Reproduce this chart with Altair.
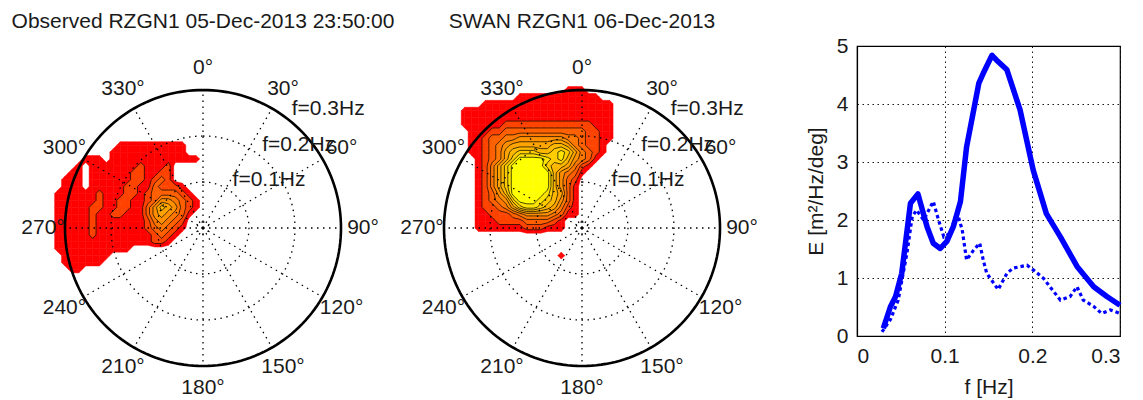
import math
import altair as alt
import pandas as pd

# ---------------------------------------------------------------- text
TITLE_OBS = "Observed RZGN1 05-Dec-2013 23:50:00"
TITLE_SWAN = "SWAN RZGN1 06-Dec-2013"

# ---------------------------------------------------------------- 1-D spectra (right panel)
F_SWAN = [0.030, 0.038, 0.044, 0.051, 0.061, 0.0695, 0.080, 0.087, 0.095, 0.1025,
          0.110, 0.118, 0.125, 0.139, 0.144, 0.154, 0.159, 0.171, 0.186, 0.201,
          0.216, 0.232, 0.251, 0.270, 0.285, 0.300]
E_SWAN = [0.13, 0.50, 0.68, 1.08, 2.29, 2.45, 1.88, 1.60, 1.51, 1.63,
          1.89, 2.32, 3.26, 4.36, 4.53, 4.84, 4.76, 4.59, 3.90, 2.86,
          2.11, 1.71, 1.20, 0.85, 0.68, 0.53]

F_OBS = [0.0285, 0.038, 0.047, 0.057, 0.063, 0.068, 0.076, 0.087, 0.093, 0.099,
         0.106, 0.114, 0.120, 0.125, 0.133, 0.140, 0.144, 0.148, 0.156, 0.161,
         0.171, 0.178, 0.194, 0.201, 0.213, 0.220, 0.232, 0.243, 0.251, 0.258,
         0.270, 0.279, 0.289, 0.300]
E_OBS = [0.07, 0.28, 0.62, 1.43, 2.06, 2.17, 2.00, 2.32, 2.00, 1.71,
         1.77, 2.14, 1.83, 1.31, 1.48, 1.60, 1.31, 1.08, 0.91, 0.80,
         1.08, 1.17, 1.22, 1.14, 0.99, 0.85, 0.62, 0.68, 0.85, 0.62,
         0.51, 0.39, 0.45, 0.39]

F_TICKS = [0, 0.1, 0.2, 0.3]
E_TICKS = [0, 1, 2, 3, 4, 5]

# ---------------------------------------------------------------- polar grid
DIR_TICKS = [0, 30, 60, 90, 120, 150, 180, 210, 240, 270, 300, 330]
RING_F = [0.1, 0.2, 0.3]
RING_LABELS = ["f=0.1Hz", "f=0.2Hz", "f=0.3Hz"]
F_MAX = 0.3
F_HUB = 0.013                   # small ring marking the origin

# ---------------------------------------------------------------- 2-D spectra
# Contour level of E(fx, fy) sampled on a 0.015 Hz grid of frequency vectors
# (fx = f*sin(dir), fy = f*cos(dir)); one string per row, top row first,
# one hex digit per node (0 = below the lowest level, A = level 10).
CELL_DF = 0.015

OBS_COL0, OBS_ROW0 = -22, 12
OBS_LEVELS = [
    "00000000001111111111000",
    "00000000011111111111000",
    "00000111011111111111110",
    "00001011111112111200000",
    "00011011111122112200000",
    "00111011111122123200000",
    "00111011111221132221000",
    "01111112111221233332100",
    "01111112112211235543210",
    "01111122112211357653210",
    "01111121122111356543100",
    "01111121111111245432000",
    "01111121111111234321000",
    "01111121111111123210000",
    "01111111111111122100000",
    "01111111111100000000000",
    "00111111100000000000000",
    "00111111000000000000000",
    "00011000000000000000000",
]

SWAN_COL0, SWAN_ROW0 = -17, 20
SWAN_LEVELS = [
    "0000000000000001110000",
    "0000000011111111111100",
    "0001111111111111111111",
    "1111111111111111111111",
    "1111111111111111111111",
    "1111112222222222222111",
    "0111223333333333332211",
    "0112334455555554432211",
    "0112345666666776432210",
    "0112346788877898643210",
    "00123468AAAA9897543100",
    "0012468AAAAA8776421000",
    "0012468AAAAAA754310000",
    "0012468AAAAAA753200000",
    "0012468AAAAAA753100000",
    "0012357AAAAA9763100000",
    "00123458AAA98753100000",
    "0012234689987642100000",
    "0011222345555431100000",
    "0011122223333210000000",
    "0011111112221110000000",
    "0000000000000000000000",
    "0000000000000000000000",
    "0000000000000000000000",
    "0000000000000010000000",
]

LEVEL_COLORS = ["#ff0000", "#ff4400", "#ff6000", "#ff7800", "#ff9000",
                "#ffa400", "#ffb800", "#ffcc00", "#ffe400", "#ffff00"]
LEVELS = list(range(1, 11))

# ---------------------------------------------------------------- layout (pixels)
CANVAS_W, CANVAS_H = 1143, 400
PLOT_LEFT, PLOT_TOP, PLOT_W, PLOT_H = 857, 46, 263, 290
R_PX = 138                      # radius of the f = 0.3 Hz circle
CENTERS = [(203, 228), (582, 228)]
FONT = "Liberation Sans"
FS = 21
INK = "#1a1a1a"


def parse(rows):
    return [[int(ch, 16) for ch in line] for line in rows]


def vertical_slices(poly):
    """Upper/lower bounds of a convex polygon at each of its vertex abscissae."""
    xs = sorted({round(p[0], 9) for p in poly})
    out = []
    n = len(poly)
    for x in xs:
        ys = []
        for a in range(n):
            (px, py), (qx, qy) = poly[a], poly[(a + 1) % n]
            lo, hi = min(px, qx), max(px, qx)
            if x < lo - 1e-9 or x > hi + 1e-9:
                continue
            if abs(qx - px) < 1e-12:
                ys += [py, qy]
            else:
                ys.append(py + (x - px) / (qx - px) * (qy - py))
        out.append((x, max(ys), min(ys)))
    return out


def contour_tables(rows, col0, row0):
    """Filled contour bands (convex pieces) and iso-line segments, marching squares."""
    g = parse(rows)
    nr, nc = len(g), len(g[0])
    pad = [[0] * (nc + 2)] + [[0] + row + [0] for row in g] + [[0] * (nc + 2)]
    c0, r0 = col0 - 1, row0 + 1

    def node(r, c):
        return ((c0 + c) * CELL_DF, (r0 - r) * CELL_DF)

    pieces, segs = [], []
    pid = 0
    for r in range(nr + 1):
        for c in range(nc + 1):
            idx = [(r, c), (r, c + 1), (r + 1, c + 1), (r + 1, c)]
            vals = [pad[a][b] for a, b in idx]
            pts = [node(a, b) for a, b in idx]
            lo, hi = min(vals), max(vals)
            for k in LEVELS:
                t = k - 0.5
                if hi < t:
                    break
                if lo >= t + 1:
                    continue
                poly, cross = [], []
                for a in range(4):
                    b = (a + 1) % 4
                    va, vb = vals[a], vals[b]
                    if va >= t:
                        poly.append(pts[a])
                    if (va >= t) != (vb >= t):
                        s = (t - va) / (vb - va)
                        p = (pts[a][0] + s * (pts[b][0] - pts[a][0]),
                             pts[a][1] + s * (pts[b][1] - pts[a][1]))
                        poly.append(p)
                        cross.append(("exit" if va >= t else "entry", p))
                if len(poly) >= 3:
                    for x, yt, yb in vertical_slices(poly):
                        pieces.append(dict(pid=pid, level=k, x=x, yt=yt, yb=yb))
                    pid += 1
                if k >= 2:
                    for n, (kind, p) in enumerate(cross):
                        if kind == "exit":
                            q = cross[(n + 1) % len(cross)][1]
                            segs.append(dict(level=k, x0=p[0], y0=p[1], x1=q[0], y1=q[1]))
    return pd.DataFrame(pieces), pd.DataFrame(segs)


level_scale = alt.Scale(domain=LEVELS, range=LEVEL_COLORS)


def polar_panel(center, title, rows, col0, row0):
    cx, cy = center
    xs = alt.Scale(domain=[-F_MAX, F_MAX], range=[cx - R_PX - PLOT_LEFT, cx + R_PX - PLOT_LEFT],
                   nice=False, zero=False)
    ys = alt.Scale(domain=[-F_MAX, F_MAX], range=[cy + R_PX - PLOT_TOP, cy - R_PX - PLOT_TOP],
                   nice=False, zero=False)

    def X(f):
        return alt.X(f, type="quantitative", scale=xs, axis=None)

    def Y(f):
        return alt.Y(f, type="quantitative", scale=ys, axis=None)

    pieces, segs = contour_tables(rows, col0, row0)

    layers = []
    for k in LEVELS:
        part = pieces[pieces.level == k]
        if part.empty:
            continue
        layers.append(
            alt.Chart(part).mark_area(strokeWidth=0.5, interpolate="linear").encode(
                x=X("x"), y=alt.Y("yt", type="quantitative", scale=ys, axis=None, stack=None),
                y2="yb", detail="pid:N",
                color=alt.Color("level:O", scale=level_scale, legend=None),
                stroke=alt.Stroke("level:O", scale=level_scale, legend=None),
            )
        )

    isolines = alt.Chart(segs).mark_rule(color="black", strokeWidth=0.8, opacity=0.9).encode(
        x=X("x0"), x2="x1", y=Y("y0"), y2="y1")

    spokes = alt.Chart(pd.DataFrame({"deg": DIR_TICKS})).transform_calculate(
        ox="0", oy="0",
        sx=f"{F_MAX}*sin(datum.deg*PI/180)", sy=f"{F_MAX}*cos(datum.deg*PI/180)",
    ).mark_rule(color="black", strokeWidth=1.3, strokeDash=[1.5, 4.5]).encode(
        x=X("ox"), x2="sx", y=Y("oy"), y2="sy")

    # circles of constant frequency, traced around the full compass
    sweep = list(range(0, 361, 2))
    circ = pd.DataFrame([{"f": f, "a": a} for f in [F_HUB] + RING_F for a in sweep])
    circ_xy = alt.Chart(circ).transform_calculate(
        px="datum.f*sin(datum.a*PI/180)", py="datum.f*cos(datum.a*PI/180)")
    rings = circ_xy.transform_filter(f"datum.f < {F_MAX}").mark_line(
        color="black", strokeWidth=1.3, strokeDash=[1.5, 4.5]).encode(
        x=X("px:Q"), y=Y("py:Q"), detail="f:N", order="a:Q")
    rim = circ_xy.transform_filter(f"datum.f >= {F_MAX}").mark_line(
        color="black", strokeWidth=2.6).encode(
        x=X("px:Q"), y=Y("py:Q"), detail="f:N", order="a:Q")

    label_r = 160 / R_PX * F_MAX
    dir_labels = alt.Chart(pd.DataFrame({"deg": DIR_TICKS,
                                         "txt": [f"{d}°" for d in DIR_TICKS]})).transform_calculate(
        lx=f"{label_r}*sin(datum.deg*PI/180)", ly=f"{label_r}*cos(datum.deg*PI/180)",
    ).mark_text(font=FONT, fontSize=FS, color=INK, align="center", baseline="middle").encode(
        x=X("lx"), y=Y("ly"), text="txt:N")

    f_labels = alt.Chart(pd.DataFrame({"f": RING_F, "txt": RING_LABELS})).transform_calculate(
        lx="datum.f*sin(40*PI/180)", ly="datum.f*cos(40*PI/180)",
    ).mark_text(font=FONT, fontSize=FS, color=INK, align="left", baseline="alphabetic", dy=-7).encode(
        x=X("lx"), y=Y("ly"), text="txt:N")

    title_fy = (cy - 28) / R_PX * F_MAX
    head = alt.Chart(pd.DataFrame({"txt": [title]})).transform_calculate(
        tx="0", ty=f"{title_fy}").mark_text(
        font=FONT, fontSize=FS, color=INK, align="center", baseline="alphabetic").encode(
        x=X("tx"), y=Y("ty"), text="txt:N")

    return alt.layer(*layers, isolines, spokes, rings, rim, dir_labels, f_labels, head)


# ---------------------------------------------------------------- line panel
x_enc = alt.X("f:Q", scale=alt.Scale(domain=[0, 0.3], nice=False, zero=False),
              axis=alt.Axis(values=F_TICKS, format="~g", title="f [Hz]", grid=True))
y_enc = alt.Y("E:Q", scale=alt.Scale(domain=[0, 5], nice=False),
              axis=alt.Axis(values=E_TICKS, format="d", title="E [m²/Hz/deg]", grid=True))

swan_line = alt.Chart(pd.DataFrame({"f": F_SWAN, "E": E_SWAN})).mark_line(
    color="#0000ff", strokeWidth=5.5, strokeJoin="round", strokeCap="butt").encode(x=x_enc, y=y_enc)
obs_line = alt.Chart(pd.DataFrame({"f": F_OBS, "E": E_OBS})).mark_line(
    color="#0000ff", strokeWidth=3.2, strokeDash=[3.5, 3]).encode(x="f:Q", y="E:Q")
spectrum = alt.layer(swan_line, obs_line)

panel_obs = polar_panel(CENTERS[0], TITLE_OBS, OBS_LEVELS, OBS_COL0, OBS_ROW0)
panel_swan = polar_panel(CENTERS[1], TITLE_SWAN, SWAN_LEVELS, SWAN_COL0, SWAN_ROW0)

chart = alt.layer(spectrum, panel_obs, panel_swan).resolve_scale(
    x="independent", y="independent"
).properties(
    width=PLOT_W, height=PLOT_H,
    padding={"left": PLOT_LEFT, "top": PLOT_TOP,
             "right": CANVAS_W - PLOT_LEFT - PLOT_W, "bottom": CANVAS_H - PLOT_TOP - PLOT_H},
    autosize=alt.AutoSizeParams(type="none"),
    background="white",
).configure_view(
    stroke="black", strokeWidth=1.2
).configure_axis(
    labelFont=FONT, labelFontSize=FS, labelColor=INK,
    titleFont=FONT, titleFontSize=FS, titleColor=INK, titleFontWeight="normal",
    domainColor="black", domainWidth=1.2, ticks=False,
    gridColor="black", gridDash=[1.5, 3.5], gridWidth=1, gridOpacity=0.9,
    labelPadding=9, titlePadding=10,
)

chart.save("out.html", embed_options={"renderer": "svg", "actions": False})
